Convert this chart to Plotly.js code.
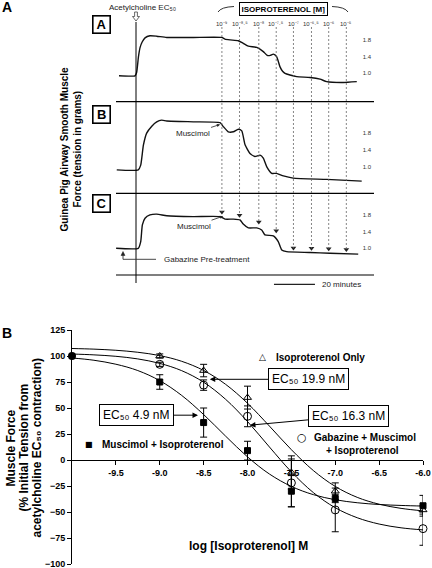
<!DOCTYPE html>
<html><head><meta charset="utf-8">
<script src="https://cdn.plot.ly/plotly-3.0.1.min.js"></script>
<style>html,body{margin:0;padding:0;background:#fff}#chart{width:432px;height:568px}</style>
</head><body><div id="chart"></div>
<script>
// ---------- Panel A: isometric tension recordings (minutes after acetylcholine, grams) ----------
const traceATime = [-8.3, -0.5, 0.3, 1.2, 2.0, 3.0, 4.4, 6.8, 10.1, 15.0, 28.0, 41.8, 43.4, 45.9, 49.9, 52.3, 54.8, 58.9, 62.1, 64.0, 65.5, 67.0, 68.6, 70.2, 71.5, 72.7, 75.1, 78.4, 84.9, 89.8, 93.0, 101.1, 107.7];
const traceATension = [0.94, 0.94, 1.02, 1.40, 1.62, 1.75, 1.85, 1.90, 1.89, 1.86, 1.86, 1.86, 1.82, 1.80, 1.78, 1.72, 1.65, 1.62, 1.52, 1.43, 1.43, 1.46, 1.40, 1.16, 1.05, 1.00, 0.96, 0.92, 0.90, 0.86, 0.80, 0.78, 0.80];
const traceBTime = [-9.4, 1.1, 2.3, 3.6, 5.2, 7.7, 10.1, 12.5, 15.0, 28.0, 41.0, 42.6, 45.0, 47.5, 49.9, 51.6, 53.2, 55.6, 58.0, 60.5, 62.1, 63.8, 66.2, 68.6, 71.9, 76.7, 93.0, 110.1];
const traceBTension = [0.94, 0.94, 1.05, 1.51, 1.79, 1.95, 2.05, 2.09, 2.07, 2.05, 2.03, 1.94, 1.82, 1.82, 1.88, 1.84, 1.52, 1.32, 1.25, 1.28, 1.21, 1.01, 0.86, 0.86, 0.80, 0.75, 0.72, 0.68];
const traceCTime = [-9.7, 1.1, 2.3, 3.1, 4.4, 6.8, 10.1, 15.0, 28.0, 41.0, 43.4, 47.5, 50.7, 52.3, 54.8, 58.9, 61.3, 62.9, 67.0, 69.4, 71.1, 73.5, 84.9, 94.6, 108.4];
const traceCTension = [1.00, 1.00, 1.16, 1.56, 1.72, 1.80, 1.82, 1.78, 1.76, 1.76, 1.70, 1.70, 1.68, 1.58, 1.49, 1.49, 1.44, 1.32, 1.30, 1.16, 0.96, 0.92, 0.90, 0.88, 0.86];
const doseTimes = [41.9, 50.5, 59.9, 68.4, 76.8, 85.6, 94.0, 102.6];
const doseLabels = ["10⁻⁹", "10⁻⁸·⁵", "10⁻⁸", "10⁻⁷·⁵", "10⁻⁷", "10⁻⁶·⁵", "10⁻⁶", "10⁻⁵"];
const arrowTipC = [1.87, 1.79, 1.63, 1.42, 1.01, 1.00, 0.99, 0.97];
const tensionTicks = [1.0, 1.4, 1.8];
const tensionTickText = ["1.0", "1.4", "1.8"];
const scaleBarStart = 67.3;
const scaleBarMinutes = 20;

// ---------- Panel B: concentration-response ----------
const logConc = [-9.0, -8.5, -8.0, -7.5, -7.0, -6.0];
const isoOnly = [100, 86, 60, -12, -30, -48];
const isoOnlyErr = [2, 6, 11, 16, 8, 4];
const gabMus = [92, 72, 42, -22, -48, -66];
const gabMusErr = [2, 5, 10, 23, 21, 16];
const musIso = [75, 36, 9, -30, -37, -44];
const musIsoErr = [7, 14, 9, 15, 4, 10];
const baseX = [-10];
const baseY = [100];
const curveX = [-10, -9.75, -9.5, -9.25, -9, -8.75, -8.5, -8.25, -8, -7.75, -7.5, -7.25, -7, -6.75, -6.5, -6.25, -6];
const curveIso = [107.2, 106.6, 105.5, 103.6, 100.4, 94.9, 86.1, 72.8, 54.6, 32.6, 9.9, -10.1, -25.4, -35.9, -42.5, -46.5, -48.9];
const curveGab = [101.9, 101.1, 99.7, 97.2, 92.9, 85.9, 74.8, 58.4, 37.0, 12.5, -11.4, -31.3, -45.9, -55.5, -61.6, -65.2, -67.2];
const curveMus = [98.1, 95.9, 92.1, 86.0, 76.3, 62.1, 43.7, 23.0, 3.0, -13.5, -25.4, -33.3, -38.2, -41.1, -42.8, -43.7, -44.3];
const xTickVals = [-9.5, -9.0, -8.5, -8.0, -7.5, -7.0, -6.5, -6.0];
const xTickText = ["-9.5", "-9.0", "-8.5", "-8.0", "-7.5", "-7.0", "-6.5", "-6.0"];
const yTickVals = [-100, -75, -50, -25, 0, 25, 50, 75, 100, 125];

// ---------- helpers ----------
const W = 432, H = 568;
const px = v => v / W;
const py = v => 1 - v / H;
const F = 'Liberation Sans, Arial, Helvetica, sans-serif';

const yBDom = [py(564), py(330)];
const yBRange = [-100, 125];
const zeroPos = yBDom[0] + (0 - yBRange[0]) / (yBRange[1] - yBRange[0]) * (yBDom[1] - yBDom[0]);
const y3Range = [0.384, 2.278];

const lineTrace = (x, y, xa, ya) => ({x, y, xaxis: xa, yaxis: ya, type: 'scatter', mode: 'lines',
  line: {color: '#111', width: 1.4, shape: 'spline', smoothing: 0.5}, hoverinfo: 'skip'});
const curve = y => ({x: curveX, y, xaxis: 'x4', yaxis: 'y4', type: 'scatter', mode: 'lines',
  line: {color: '#000', width: 1, shape: 'spline'}, hoverinfo: 'skip'});
const pts = (y, err, sym, size) => ({x: logConc, y, xaxis: 'x4', yaxis: 'y4', type: 'scatter', mode: 'markers',
  cliponaxis: false,
  marker: {symbol: sym, size, color: '#000', line: {color: '#000', width: 1}},
  error_y: {type: 'data', array: err, visible: true, color: '#000', thickness: 1, width: 3.5}});

const data = [
  lineTrace(traceATime, traceATension, 'x', 'y'),
  lineTrace(traceBTime, traceBTension, 'x2', 'y2'),
  lineTrace(traceCTime, traceCTension, 'x3', 'y3'),
  {x: doseTimes, y: arrowTipC, xaxis: 'x3', yaxis: 'y3', type: 'scatter', mode: 'markers', cliponaxis: false,
   marker: {symbol: 'triangle-down', size: 5, color: '#222'}},
  curve(curveIso), curve(curveGab), curve(curveMus),
  pts(isoOnly, isoOnlyErr, 'triangle-up-open', 7),
  pts(gabMus, gabMusErr, 'circle-open', 8),
  pts(musIso, musIsoErr, 'square', 6),
  {x: baseX, y: baseY, xaxis: 'x4', yaxis: 'y4', type: 'scatter', mode: 'markers', cliponaxis: false,
   marker: {symbol: 'circle', size: 8, color: '#000'}}
];

const tensionAxis = (dom, range) => ({domain: dom, range, side: 'right', ticklabelposition: 'inside',
  tickvals: tensionTicks, ticktext: tensionTickText, ticks: '', showgrid: false, zeroline: false, showline: false,
  tickfont: {size: 6, color: '#333', family: F}, fixedrange: true});
const timeAxis = {domain: [px(116), px(374)], range: [-9.76, 116.1], visible: false, fixedrange: true};

const shapes = [];
// acetylcholine line
shapes.push({type: 'line', xref: 'x', yref: 'paper', x0: 0, x1: 0, y0: py(283), y1: py(22), line: {color: '#000', width: 1}});
// hollow down-arrow marking acetylcholine addition
const arrowPts = [[134.6, 12], [137.4, 12], [137.4, 16.5], [139.5, 16.5], [136, 21], [132.5, 16.5], [134.6, 16.5]];
shapes.push({type: 'path', xref: 'paper', yref: 'paper', fillcolor: '#fff',
  path: 'M ' + arrowPts.map(p => px(p[0]) + ',' + py(p[1])).join(' L ') + ' Z', line: {color: '#444', width: 0.8}});
// separators
[101.7, 193.3, 275].forEach(v => shapes.push({type: 'line', xref: 'paper', yref: 'paper', x0: px(116), x1: px(374), y0: py(v), y1: py(v), line: {color: '#000', width: 1.2}}));
// dose dashed lines
doseTimes.forEach((t, i) => {
  shapes.push({type: 'line', xref: 'x', yref: 'paper', x0: t, x1: t, y0: py(27), y1: py(195), line: {color: '#666', width: 0.8, dash: '2px,2px'}});
  shapes.push({type: 'line', xref: 'x3', yref: 'y3', x0: t, x1: t, y0: y3Range[1], y1: arrowTipC[i], line: {color: '#666', width: 0.8, dash: '2px,2px'}});
});
// brackets around ISOPROTERENOL label
shapes.push({type: 'path', xref: 'paper', yref: 'paper', path: `M ${px(218)},${py(12)} Q ${px(221)},${py(7)} ${px(234)},${py(6.5)}`, line: {color: '#333', width: 1}});
shapes.push({type: 'path', xref: 'paper', yref: 'paper', path: `M ${px(332)},${py(6.5)} Q ${px(345)},${py(7)} ${px(348)},${py(12)}`, line: {color: '#333', width: 1}});
// 20 minute scale bar
shapes.push({type: 'line', xref: 'x', yref: 'paper', x0: scaleBarStart, x1: scaleBarStart + scaleBarMinutes, y0: py(284.3), y1: py(284.3), line: {color: '#222', width: 1.2}});
// gabazine L-line with small up arrowhead
shapes.push({type: 'line', xref: 'paper', yref: 'paper', x0: px(123), x1: px(156), y0: py(259.3), y1: py(259.3), line: {color: '#333', width: 0.9}});
shapes.push({type: 'line', xref: 'paper', yref: 'paper', x0: px(123), x1: px(123), y0: py(259.3), y1: py(254.5), line: {color: '#333', width: 0.9}});
const headPts = [[123, 251.5], [125, 255.5], [121, 255.5]];
shapes.push({type: 'path', xref: 'paper', yref: 'paper', fillcolor: '#222',
  path: 'M ' + headPts.map(p => px(p[0]) + ',' + py(p[1])).join(' L ') + ' Z', line: {color: '#222', width: 0.5}});

const ann = [];
const T = (text, x, y, size, extra, bold) => ann.push(Object.assign({text, x: px(x), y: py(y), xref: 'paper', yref: 'paper', showarrow: false,
  xanchor: 'center', yanchor: 'middle', font: {family: F, size, color: '#000', weight: bold ? 'bold' : 'normal'}}, extra || {}));
T('A', 7, 7, 14, null, true);
T('B', 7, 333, 14, null, true);
[['A', 24.5], ['B', 114], ['C', 203]].forEach(([l, y]) => T(l, 101, y, 13,
  {bordercolor: '#000', borderwidth: 1.6, borderpad: 1.5, width: 13, height: 13}, true));
T('Acetylcholine EC₅₀', 142, 7, 8, {font: {family: F, size: 8, color: '#222'}});
T('ISOPROTERENOL [M]', 283, 8.5, 8, {bordercolor: '#000', borderwidth: 1, borderpad: 1.5, height: 9}, true);
doseTimes.forEach((t, i) => ann.push({text: doseLabels[i], x: t, xref: 'x', y: py(23.5), yref: 'paper', showarrow: false,
  xanchor: 'center', yanchor: 'middle', font: {family: F, size: 6, color: '#333'}}));
ann.push({text: 'Muscimol', x: 41.0, y: 1.99, xref: 'x2', yref: 'y2', ax: -27, ay: 9, showarrow: true,
  arrowhead: 2, arrowsize: 0.8, arrowwidth: 0.8, arrowcolor: '#222', font: {family: F, size: 8, color: '#222'}});
ann.push({text: 'Muscimol', x: 42.5, y: 1.77, xref: 'x3', yref: 'y3', ax: -29, ay: 10, showarrow: true,
  arrowhead: 2, arrowsize: 0.8, arrowwidth: 0.8, arrowcolor: '#222', font: {family: F, size: 8, color: '#222'}});
T('Gabazine Pre-treatment', 162, 259.3, 8, {xanchor: 'left', font: {family: F, size: 8, color: '#222'}});
T('20 minutes', 320, 284.3, 8, {xanchor: 'left', font: {family: F, size: 8, color: '#222'}});
T('Guinea Pig Airway Smooth Muscle', 64.5, 149, 10, {textangle: -90}, true);
T('Force (tension in grams)', 77.5, 149, 10, {textangle: -90}, true);

// panel B titles
T('Muscle Force', 10.5, 448, 12, {textangle: -90}, true);
T('(% Initial Tension from', 23.5, 448, 12, {textangle: -90}, true);
T('acetylcholine EC₅₀ contraction)', 36.5, 448, 12, {textangle: -90}, true);
T('log [Isoproterenol] M', 248, 545.7, 12, null, true);
// legend texts
T('△', 262, 357, 9, {font: {family: 'DejaVu Sans', size: 9, color: '#000'}});
T('Isoproterenol Only', 274, 357, 10, {xanchor: 'left'}, true);
T('○', 302, 437, 11, {font: {family: 'DejaVu Sans', size: 11, color: '#000'}});
T('Gabazine + Muscimol', 312, 437, 10, {xanchor: 'left'}, true);
T('+ Isoproterenol', 362.5, 450, 10, null, true);
T('■', 89, 444, 8, {font: {family: 'DejaVu Sans', size: 8, color: '#000'}});
T('Muscimol + Isoproterenol', 100, 444, 10, {xanchor: 'left'}, true);
// EC50 annotations
const ecBox = (text, x, y, ax, ay) => ann.push({text, x, y, xref: 'x4', yref: 'y4', ax, ay, showarrow: true,
  arrowhead: 2, arrowsize: 1.1, arrowwidth: 1, arrowcolor: '#000', bgcolor: '#fff', bordercolor: '#000', borderwidth: 1, borderpad: 3,
  font: {family: F, size: 12, color: '#000'}});
ecBox('EC₅₀ 19.9 nM', -8.43, 77.6, 98.5, 0);
ecBox('EC₅₀ 4.9 nM', -8.564, 43.1, -62, 0);
ecBox('EC₅₀ 16.3 nM', -7.972, 33.5, 98.5, -9);

const layout = {
  width: W, height: H, margin: {l: 0, r: 0, t: 0, b: 0},
  paper_bgcolor: '#fff', plot_bgcolor: 'rgba(0,0,0,0)', showlegend: false,
  font: {family: F, color: '#000', size: 10},
  xaxis: Object.assign({}, timeAxis, {anchor: 'y'}),
  xaxis2: Object.assign({}, timeAxis, {anchor: 'y2', matches: 'x'}),
  xaxis3: Object.assign({}, timeAxis, {anchor: 'y3', matches: 'x'}),
  yaxis: Object.assign(tensionAxis([py(101), py(27)], [0.336, 2.110]), {anchor: 'x'}),
  yaxis2: Object.assign(tensionAxis([py(193), py(103)], [0.406, 2.485]), {anchor: 'x2'}),
  yaxis3: Object.assign(tensionAxis([py(274), py(195)], y3Range), {anchor: 'x3'}),
  xaxis4: {domain: [px(72), px(423)], range: [-10, -6], anchor: 'free', position: zeroPos,
    tickvals: xTickVals, ticktext: xTickText, ticks: 'outside', ticklen: 4, tickwidth: 1, tickcolor: '#000',
    showline: true, linecolor: '#000', linewidth: 1, showgrid: false, zeroline: false, ticklabeloverflow: 'allow',
    tickfont: {family: F, size: 9, weight: 'bold', color: '#000'}, fixedrange: true},
  yaxis4: {domain: yBDom, range: yBRange, anchor: 'x4', tickvals: yTickVals, ticks: 'outside', ticklen: 4, tickwidth: 1, tickcolor: '#000',
    showline: true, linecolor: '#000', linewidth: 1, showgrid: false, zeroline: false, ticklabeloverflow: 'allow',
    tickfont: {family: F, size: 9, weight: 'bold', color: '#000'}, fixedrange: true},
  shapes, annotations: ann
};
Plotly.newPlot('chart', data, layout, {staticPlot: true, displayModeBar: false});
</script></body></html>
